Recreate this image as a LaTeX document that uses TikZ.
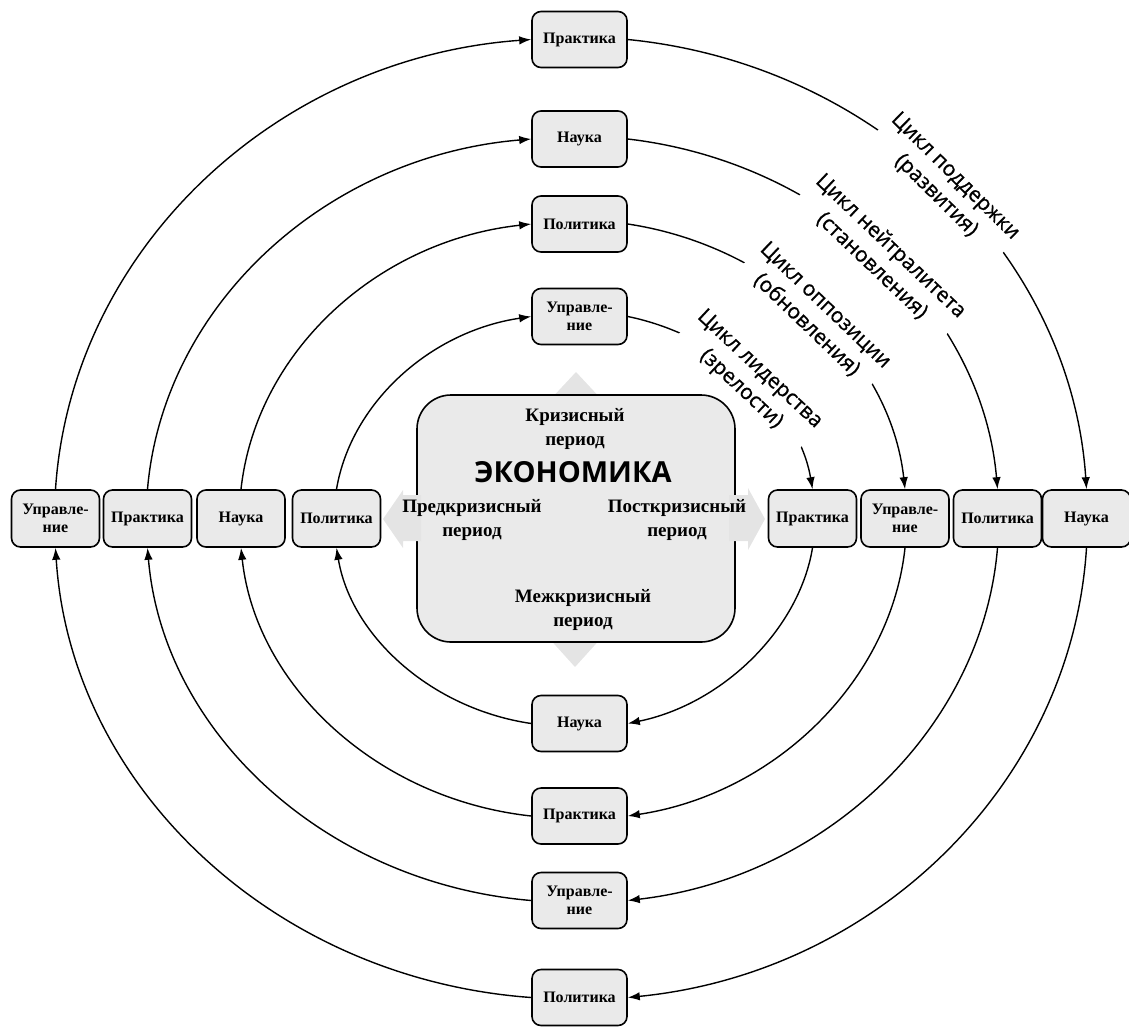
\documentclass[tikz,border=0pt]{standalone}
\usepackage{fontspec}
\setmainfont{Liberation Serif}
\newfontfamily\cycsans[FakeBold=0.7]{Open Sans}
\newfontfamily\ecosans{Open Sans}
\usetikzlibrary{arrows.meta}
\definecolor{boxfill}{RGB}{234,234,234}
\definecolor{crossfill}{RGB}{228,228,228}
\tikzset{
  bx/.style={draw, line width=1.6pt, rounded corners=9pt, fill=boxfill, minimum height=57pt,
    inner sep=1pt, align=center, font=\fontsize{16}{18}\selectfont\bfseries},
  sidebx/.style={bx, minimum width=88pt},
  vbx/.style={bx, minimum width=95pt, minimum height=56pt},
  conn/.style={line width=1.4pt, -{Latex[length=12pt,width=8.5pt]}},
  cyc/.style={sloped, pos=0.5, fill=white, inner sep=2pt, align=center,
    font=\cycsans\fontsize{21}{27}\selectfont},
  ctext/.style={align=center, inner sep=0pt, font=\fontsize{19}{24}\selectfont\bfseries},
}
\begin{document}
\begin{tikzpicture}[x=1pt,y=1pt]
\useasboundingbox (0,0) rectangle (1129,-1026);
% ---- central cross arrows (behind) ----
\fill[crossfill] (548,-402) -- (576,-372) -- (604,-402) -- cycle;
\fill[crossfill] (547,-636) -- (575,-667) -- (603,-636) -- cycle;
% ---- central box ----
\node[draw, line width=1.6pt, fill=boxfill, rounded corners=34pt, minimum width=318pt,
  minimum height=247pt, inner sep=0pt] (eco) at (576,-518.5) {};
% side arrows over the border
\fill[crossfill] (421,-495) -- (403,-495) -- (403,-490) -- (383,-519) -- (403,-548) -- (403,-541) -- (421,-541) -- cycle;
\fill[crossfill] (729,-495) -- (748,-495) -- (748,-488) -- (765,-519) -- (748,-550) -- (748,-541) -- (729,-541) -- cycle;
% ---- central texts ----
\node[ctext] (kriz) at (575,-429) {Кризисный\\период};
\node[font=\ecosans\fontsize{29}{32}\selectfont\bfseries, inner sep=0pt] (econ) at (573,-472) {ЭКОНОМИКА};
\node[ctext] (pred) at (472,-520) {Предкризисный\\период};
\node[ctext] (post) at (677,-520) {Посткризисный\\период};
\node[ctext] (mezh) at (583,-610) {Межкризисный\\период};
% ---- boxes ----
\node[sidebx] (L4) at (55.5,-518.5) {Управле-\\ние};
\node[sidebx] (L3) at (147.5,-518.5) {Практика};
\node[sidebx] (L2) at (241,-518.5) {Наука};
\node[sidebx] (L1) at (336.5,-518.5) {Политика};
\node[sidebx] (R1) at (812.5,-518.5) {Практика};
\node[sidebx] (R2) at (905,-518.5) {Управле-\\ние};
\node[sidebx] (R3) at (997.5,-518.5) {Политика};
\node[sidebx] (R4) at (1086.5,-518.5) {Наука};
\node[vbx] (T4) at (579.5,-39.5) {Практика};
\node[vbx] (T3) at (579.5,-139) {Наука};
\node[vbx] (T2) at (579.5,-224) {Политика};
\node[vbx] (T1) at (579.5,-316.5) {Управле-\\ние};
\node[vbx] (B1) at (579.5,-723.5) {Наука};
\node[vbx] (B2) at (579.5,-816) {Практика};
\node[vbx] (B3) at (579.5,-900.5) {Управле-\\ние};
\node[vbx] (B4) at (579.5,-997.5) {Политика};
% ---- ring 1 ----
\draw[conn] (L1.north) to[out=80.4,in=188.4,out distance=87.8pt,in distance=101.8pt] (T1.west);
\draw[conn] (T1.east) to[out=-11.6,in=99.6,out distance=95.9pt,in distance=83pt]
  node[cyc] {Цикл лидерства\\(зрелости)} (R1.north);
\draw[conn] (R1.south) to[out=-99.3,in=11.6,out distance=83.3pt,in distance=96.3pt] (B1.east);
\draw[conn] (B1.west) to[out=171.6,in=-80.7,out distance=102.3pt,in distance=88.2pt] (L1.south);
% ---- ring 2 ----
\draw[conn] (L2.north) to[out=83.7,in=186.2,out distance=138.6pt,in distance=154.6pt] (T2.west);
\draw[conn] (T2.east) to[out=-8.6,in=96.3,out distance=148.7pt,in distance=133.5pt]
  node[cyc] {Цикл оппозиции\\(обновления)} (R2.north);
\draw[conn] (R2.south) to[out=-96.1,in=8.6,out distance=133.9pt,in distance=149.1pt] (B2.east);
\draw[conn] (B2.west) to[out=173.8,in=-83.9,out distance=154.9pt,in distance=138.9pt] (L2.south);
% ---- ring 3 ----
\draw[conn] (L3.north) to[out=85.1,in=184.8,out distance=184.6pt,in distance=206.4pt] (T3.west);
\draw[conn] (T3.east) to[out=-6.65,in=94.9,out distance=200.5pt,in distance=179.5pt]
  node[cyc] {Цикл нейтралитета\\(становления)} (R3.north);
\draw[conn] (R3.south) to[out=-94.75,in=6.65,out distance=179.9pt,in distance=201pt] (B3.east);
\draw[conn] (B3.west) to[out=175.2,in=-85.25,out distance=206.8pt,in distance=184.9pt] (L3.south);
% ---- ring 4 ----
\draw[conn] (L4.north) to[out=86.2,in=184.1,out distance=238.6pt,in distance=257.6pt] (T4.west);
\draw[conn] (T4.east) to[out=-5.66,in=93.8,out distance=251.8pt,in distance=233.3pt]
  node[cyc] {Цикл поддержки\\(развития)} (R4.north);
\draw[conn] (R4.south) to[out=-93.6,in=5.66,out distance=233.7pt,in distance=252.2pt] (B4.east);
\draw[conn] (B4.west) to[out=175.9,in=-86.4,out distance=258.1pt,in distance=239pt] (L4.south);
\end{tikzpicture}
\end{document}
